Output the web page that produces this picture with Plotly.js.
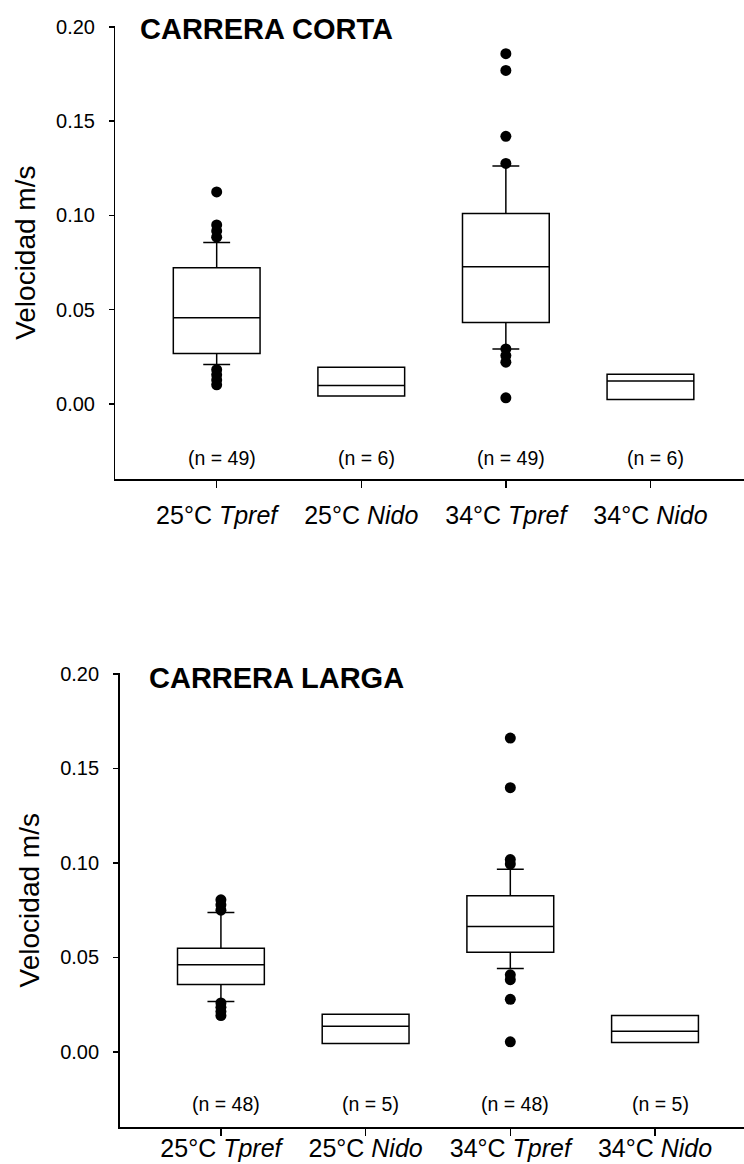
<!DOCTYPE html>
<html>
<head>
<meta charset="utf-8">
<script src="https://cdn.plot.ly/plotly-3.0.1.min.js"></script>
<style>
  html, body { margin: 0; padding: 0; background: #fff; }
  #chart { width: 744px; height: 1164px; }
</style>
</head>
<body>
<div id="chart"></div>
<script>
// Groups along the x axis
const groupPos = [0, 1, 2, 3];
const groupLabels = ['25°C <i>Tpref</i>', '25°C <i>Nido</i>', '34°C <i>Tpref</i>', '34°C <i>Nido</i>'];
const yTicks = [0, 0.05, 0.10, 0.15, 0.20];

// Carrera corta: box statistics per group (m/s)
const cortaN = [49, 6, 49, 6];
const cortaLowerFence = [0.0210, 0.0043, 0.0292, 0.0024];
const cortaQ1 = [0.0268, 0.0043, 0.0432, 0.0024];
const cortaMedian = [0.0457, 0.0098, 0.0728, 0.0122];
const cortaQ3 = [0.0723, 0.0195, 0.1010, 0.0158];
const cortaUpperFence = [0.0856, 0.0195, 0.1262, 0.0158];
// Carrera corta: outlying runs
const cortaOut25Tpref = [0.1125, 0.0950, 0.0918, 0.0885, 0.0182, 0.0155, 0.0128, 0.0102];
const cortaOut34Tpref = [0.1858, 0.1769, 0.1420, 0.1276, 0.0292, 0.0257, 0.0222, 0.0033];

// Carrera larga: box statistics per group (m/s)
const largaN = [48, 5, 48, 5];
const largaLowerFence = [0.0266, 0.0044, 0.0441, 0.0049];
const largaQ1 = [0.0357, 0.0044, 0.0527, 0.0049];
const largaMedian = [0.0461, 0.0135, 0.0663, 0.0109];
const largaQ3 = [0.0548, 0.0199, 0.0826, 0.0192];
const largaUpperFence = [0.0737, 0.0199, 0.0967, 0.0192];
// Carrera larga: outlying runs
const largaOut25Tpref = [0.0805, 0.0778, 0.0750, 0.0259, 0.0236, 0.0213, 0.0192];
const largaOut34Tpref = [0.1661, 0.1398, 0.1018, 0.0994, 0.0408, 0.0382, 0.0278, 0.0053];

const FONT = 'Arial, "Liberation Sans", sans-serif';
const INK = '#000';

function boxTrace(stats, xa, ya) {
  return {
    type: 'box',
    x: groupPos,
    q1: stats.q1, median: stats.median, q3: stats.q3,
    lowerfence: stats.lf, upperfence: stats.uf,
    width: 0.6,
    whiskerwidth: 0.31,
    boxpoints: false,
    fillcolor: '#fff',
    line: { color: INK, width: 1.5 },
    xaxis: xa, yaxis: ya,
    showlegend: false,
    hoverinfo: 'y'
  };
}

function outlierTrace(pos, values, xa, ya) {
  return {
    type: 'scatter',
    mode: 'markers',
    x: values.map(() => pos),
    y: values,
    marker: { color: INK, size: 11 },
    xaxis: xa, yaxis: ya,
    showlegend: false,
    hoverinfo: 'y'
  };
}

const data = [
  boxTrace({ q1: cortaQ1, median: cortaMedian, q3: cortaQ3, lf: cortaLowerFence, uf: cortaUpperFence }, 'x', 'y'),
  outlierTrace(groupPos[0], cortaOut25Tpref, 'x', 'y'),
  outlierTrace(groupPos[2], cortaOut34Tpref, 'x', 'y'),
  boxTrace({ q1: largaQ1, median: largaMedian, q3: largaQ3, lf: largaLowerFence, uf: largaUpperFence }, 'x2', 'y2'),
  outlierTrace(groupPos[0], largaOut25Tpref, 'x2', 'y2'),
  outlierTrace(groupPos[2], largaOut34Tpref, 'x2', 'y2')
];

function xAxis(domain, range, anchor, standoff) {
  return {
    domain: domain, range: range, anchor: anchor,
    tickmode: 'array', tickvals: groupPos, ticktext: groupLabels,
    ticks: 'outside', ticklen: 7, tickwidth: 1.5, tickcolor: INK,
    ticklabelstandoff: standoff,
    showline: true, linecolor: INK, linewidth: 1.5,
    showgrid: false, zeroline: false,
    tickfont: { family: FONT, size: 25, color: INK },
    fixedrange: true
  };
}

function yAxis(domain, anchor) {
  return {
    domain: domain, range: [-0.04, 0.2005], anchor: anchor,
    tickmode: 'array', tickvals: yTicks, tickformat: '.2f',
    ticks: 'outside', ticklen: 5, tickwidth: 1.5, tickcolor: INK,
    ticklabelstandoff: 10,
    showline: true, linecolor: INK, linewidth: 1.5,
    showgrid: false, zeroline: false,
    tickfont: { family: FONT, size: 20, color: INK },
    title: { text: 'Velocidad m/s', font: { family: FONT, size: 28, color: INK }, standoff: 12 },
    fixedrange: true
  };
}

function nLabels(counts, xa, ya, yPos) {
  return counts.map((n, i) => ({
    xref: xa, yref: ya, x: groupPos[i], y: yPos,
    text: '(n = ' + n + ')', showarrow: false, xshift: 5,
    font: { family: FONT, size: 19.5, color: INK }
  }));
}

const layout = {
  width: 744, height: 1164,
  margin: { l: 0, r: 0, t: 0, b: 0 },
  paper_bgcolor: '#fff', plot_bgcolor: 'rgba(0,0,0,0)',
  font: { family: FONT, color: INK },
  showlegend: false,
  xaxis: xAxis([0.1552, 1], [-0.70, 3.647], 'y', 6),
  yaxis: yAxis([0.5881, 0.9777], 'x'),
  xaxis2: xAxis([0.1608, 1], [-0.70, 3.615], 'y2', -9),
  yaxis2: yAxis([0.0314, 0.4218], 'x2'),
  annotations: [
    { xref: 'paper', yref: 'paper', x: 0.1855, y: 0.9751, xanchor: 'left', yanchor: 'middle',
      text: '<b>CARRERA CORTA</b>', showarrow: false, font: { family: FONT, size: 29, color: INK } },
    { xref: 'paper', yref: 'paper', x: 0.1977, y: 0.4179, xanchor: 'left', yanchor: 'middle',
      text: '<b>CARRERA LARGA</b>', showarrow: false, font: { family: FONT, size: 29, color: INK } }
  ].concat(nLabels(cortaN, 'x', 'y', -0.0285), nLabels(largaN, 'x2', 'y2', -0.0275))
};

Plotly.newPlot('chart', data, layout, { displayModeBar: false, staticPlot: true });
</script>
</body>
</html>
